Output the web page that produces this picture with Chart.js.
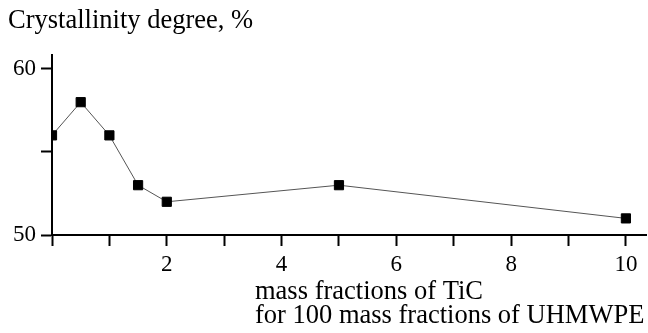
<!DOCTYPE html>
<html>
<head>
<meta charset="utf-8">
<script src="https://cdn.jsdelivr.net/npm/chart.js@4"></script>
<style>
  html, body { margin: 0; padding: 0; background: #fff; }
  #wrap { width: 648px; height: 333px; position: relative; }
</style>
</head>
<body>
<div id="wrap"><canvas id="chart" width="648" height="333"></canvas></div>
<script>
// Datos
const tic = [0, 0.5, 1, 1.5, 2, 5, 10];
const crystallinity = [56, 58, 56, 53, 52, 53, 51];
const xLabels = [2, 4, 6, 8, 10];
const yLabels = [50, 60];

const yTitle = 'Crystallinity degree, %';
const xTitle = ['mass fractions of TiC', 'for 100 mass fractions of UHMWPE'];

const serif = "'Liberation Serif', 'Times New Roman', serif";

// Plugin para dibujar los títulos de los ejes
const axisTitles = {
    id: 'axisTitles',
    afterDraw(chart) {
        const ctx = chart.ctx;
        ctx.save();
        ctx.fillStyle = '#000';
        ctx.font = '26.5px ' + serif;
        ctx.textAlign = 'left';
        ctx.textBaseline = 'alphabetic';
        ctx.fillText(yTitle, 8, 28);
        ctx.fillText(xTitle[0], 255, 299);
        ctx.fillText(xTitle[1], 255, 323);
        ctx.restore();
    }
};

const points = tic.map((x, i) => ({ x: x, y: crystallinity[i] }));

new Chart(document.getElementById('chart').getContext('2d'), {
    type: 'scatter',
    data: {
        datasets: [{
            data: points,
            showLine: true,
            borderColor: '#555',
            borderWidth: 1,
            pointStyle: 'rect',
            pointRadius: 6.5,
            pointHoverRadius: 6.5,
            pointBackgroundColor: '#000',
            pointBorderColor: '#000',
            pointBorderWidth: 1
        }]
    },
    options: {
        responsive: false,
        animation: false,
        layout: { autoPadding: false, padding: { top: 55, right: 2, left: 0, bottom: 0 } },
        plugins: {
            legend: { display: false },
            tooltip: { enabled: false }
        },
        scales: {
            x: {
                type: 'linear',
                min: 0,
                max: 10.35,
                afterFit(scale) {
                    scale.height = 98;
                    scale.paddingLeft = 0;
                    scale.paddingRight = 0;
                },
                border: { color: '#000', width: 2 },
                grid: { drawOnChartArea: false, color: '#000', tickLength: 11, tickWidth: 2 },
                ticks: {
                    stepSize: 1,
                    includeBounds: false,
                    maxRotation: 0,
                    autoSkip: false,
                    color: '#000',
                    padding: 5,
                    font: { family: serif, size: 23 },
                    callback: v => xLabels.includes(v) ? String(v) : ''
                }
            },
            y: {
                type: 'linear',
                min: 50,
                max: 60.84,
                afterFit(scale) {
                    scale.width = 52;
                    scale.paddingTop = 0;
                    scale.paddingBottom = 0;
                },
                border: { color: '#000', width: 2 },
                grid: { drawOnChartArea: false, color: '#000', tickLength: 11, tickWidth: 2 },
                ticks: {
                    stepSize: 5,
                    includeBounds: false,
                    color: '#000',
                    padding: 5,
                    font: { family: serif, size: 23 },
                    callback: v => yLabels.includes(v) ? String(v) : ''
                }
            }
        }
    },
    plugins: [axisTitles]
});
</script>
</body>
</html>
